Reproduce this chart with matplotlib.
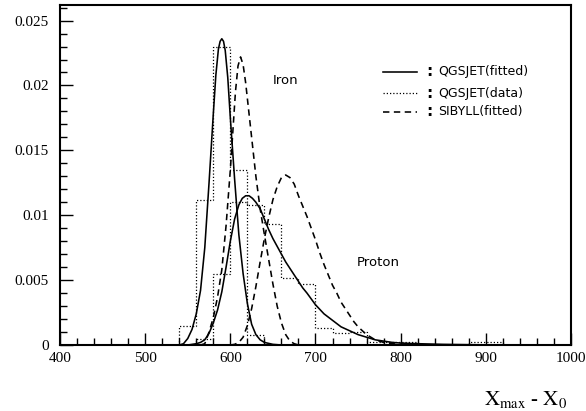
import numpy as np
import matplotlib
matplotlib.use("Agg")
import matplotlib.pyplot as plt
from matplotlib.ticker import MultipleLocator, FixedLocator, FixedFormatter

# ---- data ----
# QGSJET fitted, Iron (solid)
iron_qgs_x = [540, 545, 550, 555, 560, 565, 570, 575, 580, 583, 586, 588, 590, 592, 594, 597, 600, 605, 610, 615, 620,
              625, 630, 635, 640, 650, 660]
iron_qgs_y = [0, 0.0001, 0.0005, 0.0012, 0.0024, 0.0042, 0.0075, 0.0125, 0.0178, 0.0208, 0.0228, 0.0234, 0.0236,
              0.0234, 0.0227, 0.0206, 0.0175, 0.0128, 0.0085, 0.0055, 0.0032, 0.0016, 0.0008, 0.0004, 0.0002,
              0.00005, 0]

# QGSJET fitted, Proton (solid)
prot_qgs_x = [550, 560, 565, 570, 575, 580, 585, 590, 595, 600, 605, 610, 614, 618, 622, 626, 630, 635, 640, 645, 650,
              655, 660, 665, 670, 675, 680, 685, 690, 700, 710, 720, 730, 740, 750, 760, 770, 780, 790, 800, 820, 850,
              900, 1000]
prot_qgs_y = [0, 0.0001, 0.0002, 0.0004, 0.0009, 0.0017, 0.0027, 0.0041, 0.0060, 0.0080, 0.0097, 0.0108, 0.0113,
              0.0115, 0.0115, 0.0113, 0.0110, 0.0105, 0.0097, 0.0089, 0.0082, 0.0076, 0.0070, 0.0064, 0.0059, 0.0054,
              0.0049, 0.0044, 0.0040, 0.0031, 0.0024, 0.0019, 0.0014, 0.0011, 0.0008, 0.0006, 0.0004, 0.0003, 0.0002,
              0.00015, 0.0001, 0.00005, 0.00001, 0]

# SIBYLL fitted, Iron (dashed)
iron_sib_x = [565, 570, 575, 580, 585, 590, 595, 600, 603, 606, 609, 612, 615, 618, 621, 625, 630, 635, 640, 645, 650,
              655, 660, 665, 670, 675, 680]
iron_sib_y = [0, 0.0001, 0.0010, 0.0021, 0.0037, 0.0058, 0.0092, 0.0135, 0.0165, 0.0195, 0.0215, 0.0222, 0.0216,
              0.0202, 0.0184, 0.0160, 0.0130, 0.0105, 0.0085, 0.0066, 0.0047, 0.0030, 0.0017, 0.0008, 0.0003, 0.0001, 0]

# SIBYLL fitted, Proton (dashed)
prot_sib_x = [600, 605, 610, 615, 620, 625, 630, 635, 640, 645, 650, 655, 660, 665, 670, 675, 680, 685, 690, 695, 700,
              705, 710, 715, 720, 725, 730, 735, 740, 745, 750, 755, 760, 770, 780, 790, 800, 820]
prot_sib_y = [0, 0.00005, 0.0002, 0.0006, 0.0015, 0.0028, 0.0045, 0.0064, 0.0082, 0.0098, 0.0112, 0.0122, 0.0129,
              0.0131, 0.0129, 0.0124, 0.0115, 0.0107, 0.0099, 0.0090, 0.0081, 0.0071, 0.0062, 0.0054, 0.0046, 0.0040,
              0.0033, 0.0028, 0.0023, 0.0018, 0.0014, 0.0011, 0.0008, 0.0004, 0.0002, 0.0001, 0.00005, 0]

# QGSJET data histograms (dotted)
iron_hist_edges = [540, 560, 580, 600, 620, 640]
iron_hist_vals = [0.0015, 0.0112, 0.0230, 0.0135, 0.0008]

prot_hist_edges = [560, 580, 600, 620, 640, 660, 680, 700, 720, 740, 760, 780, 800, 820, 840, 860, 880, 900, 920]
prot_hist_vals = [0.0005, 0.0055, 0.0110, 0.0108, 0.0093, 0.0052, 0.0047, 0.0013, 0.0009, 0.0010, 0.0002, 0.0002,
                  0.0002, 0, 0, 0, 0.0002, 0.0002]

x_ticks = [400, 500, 600, 700, 800, 900, 1000]
y_ticks = [0, 0.005, 0.01, 0.015, 0.02, 0.025]
y_tick_labels = ["0", "0.005", "0.01", "0.015", "0.02", "0.025"]
legend_labels = ["QGSJET(fitted)", "QGSJET(data)", "SIBYLL(fitted)"]

# ---- figure ----
plt.rcParams['mathtext.fontset'] = 'stix'
W, H = 586, 411
fig = plt.figure(figsize=(W / 100, H / 100), dpi=100)
ax = fig.add_axes([60 / W, (H - 345) / H, (571 - 60) / W, (345 - 5) / H])

lw_curve = 1.15
dash = (0, (4, 2.8))
dot = (0, (1, 1.6))
ax.plot(iron_qgs_x, iron_qgs_y, color='black', lw=lw_curve, solid_joinstyle='round')
ax.plot(prot_qgs_x, prot_qgs_y, color='black', lw=lw_curve, solid_joinstyle='round')
ax.plot(iron_sib_x, iron_sib_y, color='black', lw=lw_curve, linestyle=dash)
ax.plot(prot_sib_x, prot_sib_y, color='black', lw=lw_curve, linestyle=dash)
ax.stairs(iron_hist_vals, iron_hist_edges, color='black', lw=0.9, linestyle=dot, baseline=0)
ax.stairs(prot_hist_vals, prot_hist_edges, color='black', lw=0.9, linestyle=dot, baseline=0)

ax.set_xlim(400, 1000)
ax.set_ylim(0, 0.0262)

ax.xaxis.set_major_locator(FixedLocator(x_ticks))
ax.xaxis.set_minor_locator(MultipleLocator(20))
ax.yaxis.set_major_locator(FixedLocator(y_ticks))
ax.yaxis.set_major_formatter(FixedFormatter(y_tick_labels))
ax.yaxis.set_minor_locator(MultipleLocator(0.001))
ax.tick_params(which='both', direction='in', top=False, right=False, width=1.0)
ax.tick_params(which='major', length=9)
ax.tick_params(which='minor', length=5)
ax.tick_params(axis='x', which='major', pad=5)
ax.tick_params(axis='y', which='major', pad=8)
for lab in ax.get_xticklabels() + ax.get_yticklabels():
    lab.set_fontfamily('Liberation Serif')
    lab.set_fontsize(11)
for sp in ax.spines.values():
    sp.set_linewidth(1.5)

# legend drawn as in the original (lines, colon, text)
sans = 'DejaVu Sans'
leg_styles = ['-', dot, dash]
leg_lws = [lw_curve, 0.9, lw_curve]
leg_y = [71.7, 93.3, 111.7]
for lab, ls, lwl, py in zip(legend_labels, leg_styles, leg_lws, leg_y):
    yf = 1 - py / H
    fig.add_artist(plt.Line2D([383 / W, 417 / W], [yf, yf], color='black', lw=lwl, linestyle=ls))
    fig.text(426 / W, yf, ":", fontsize=11, fontweight='bold', family=sans, va='center', ha='left')
    fig.text(438 / W, yf, lab, fontsize=9, family=sans, va='center', ha='left')

fig.text(273 / W, 1 - 81 / H, "Iron", fontsize=9.5, family=sans, va='center', ha='left')
fig.text(357 / W, 1 - 263 / H, "Proton", fontsize=9.5, family=sans, va='center', ha='left')

fig.text(567 / W, 1 - 399 / H, r"$\mathrm{X_{max}}$ - $\mathrm{X_0}$", fontsize=15,
         family='Liberation Serif', va='center', ha='right')

fig.savefig("out.png", dpi=100)
